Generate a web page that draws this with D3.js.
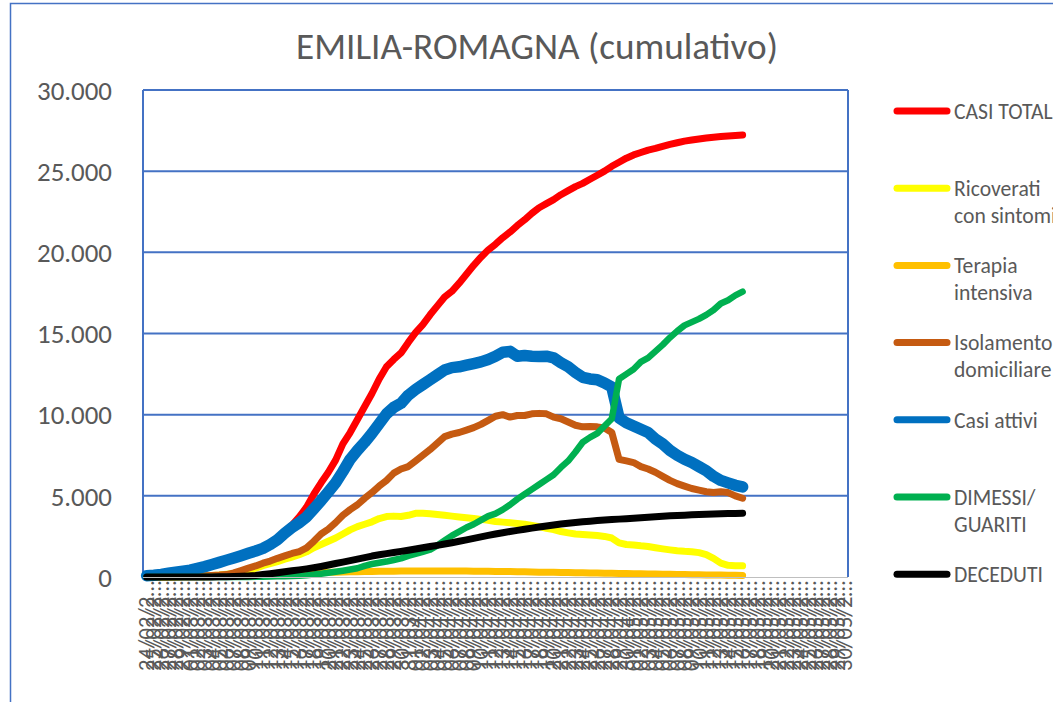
<!DOCTYPE html>
<html>
<head>
<meta charset="utf-8">
<script src="https://cdn.jsdelivr.net/npm/d3@7"></script>
<style>
  body { margin: 0; background: #fff; }
  svg { display: block; font-family: Carlito, Lato, "Open Sans", sans-serif; }
</style>
</head>
<body>
<div id="chart"></div>
<script>
// ---- data ----
const chartTitle = "EMILIA-ROMAGNA (cumulativo)";
const firstDay = new Date(2020, 1, 24), lastDay = new Date(2020, 4, 30);
const yTicks = [0, 5000, 10000, 15000, 20000, 25000, 30000];

const casiTotali = [80,110,160,230,300,360,430,540,650,780,
  920,1060,1200,1340,1500,1650,1830,2080,2400,2800,
  3200,3700,4300,5100,5800,6450,7200,8200,8900,9700,
  10500,11300,12200,12950,13400,13800,14450,15050,15550,16150,
  16700,17250,17600,18100,18650,19200,19700,20150,20500,20900,
  21250,21650,22000,22400,22750,23000,23250,23550,23800,24050,
  24250,24500,24750,25000,25300,25550,25800,26000,26150,26300,
  26400,26530,26650,26750,26850,26920,26980,27040,27090,27130,
  27170,27200,27230];
const ricoverati = [0,0,5,10,20,30,40,60,80,100,
  130,170,210,260,400,550,700,820,950,1100,
  1230,1370,1550,1800,2000,2200,2400,2650,2900,3100,
  3250,3400,3600,3720,3750,3730,3800,3920,3930,3900,
  3850,3800,3750,3700,3650,3610,3550,3500,3420,3380,
  3340,3300,3250,3180,3100,3000,2920,2800,2720,2650,
  2620,2590,2560,2500,2400,2100,2000,1970,1920,1880,
  1800,1730,1670,1620,1580,1560,1500,1380,1150,850,
  720,700,690];
const terapiaIntensiva = [0,0,2,4,6,8,12,16,20,25,
  30,40,50,60,70,90,110,130,150,170,
  190,210,230,250,270,290,300,310,320,330,
  340,345,350,355,360,365,370,372,375,375,
  374,372,370,368,365,360,355,350,345,340,
  335,330,320,310,300,292,285,278,270,262,
  255,248,240,232,225,218,210,202,195,188,
  180,172,165,158,150,143,136,130,124,118,
  112,106,100];
const isolamento = [0,0,10,20,30,40,50,60,80,100,
  120,150,250,400,550,680,850,980,1150,1300,
  1450,1570,1800,2200,2650,2950,3350,3800,4150,4450,
  4850,5200,5600,5950,6400,6650,6800,7150,7500,7850,
  8250,8650,8800,8900,9050,9200,9400,9650,9900,10000,
  9850,9950,9950,10050,10080,10050,9850,9750,9550,9350,
  9250,9270,9250,9180,8900,7250,7150,7050,6800,6650,
  6450,6200,5950,5750,5600,5450,5350,5250,5200,5250,
  5200,5000,4850];
const casiAttivi = [80,110,160,230,300,360,420,530,640,770,
  900,1040,1170,1310,1460,1600,1760,2000,2300,2700,
  3050,3350,3700,4200,4700,5250,5800,6500,7250,7800,
  8300,8850,9450,10050,10450,10700,11200,11550,11850,12150,
  12450,12750,12900,12950,13050,13150,13250,13400,13600,13850,
  13900,13600,13650,13600,13580,13600,13500,13200,12950,12600,
  12300,12200,12150,11950,11700,9800,9500,9300,9100,8900,
  8500,8200,7800,7500,7250,7050,6800,6550,6200,5950,
  5800,5650,5550];
const dimessiGuariti = [0,0,0,0,0,0,0,0,0,0,
  0,0,0,0,0,10,20,30,40,50,
  60,80,110,150,200,260,320,390,460,540,
  680,800,880,950,1050,1150,1300,1420,1550,1680,
  1950,2250,2550,2800,3050,3250,3500,3750,3900,4150,
  4450,4800,5100,5400,5700,6000,6300,6750,7150,7700,
  8300,8600,8850,9300,9750,12200,12500,12800,13250,13500,
  13900,14300,14750,15150,15500,15700,15900,16150,16450,16850,
  17050,17350,17580];
const deceduti = [0,0,0,0,0,0,0,1,3,6,
  10,20,30,45,65,90,150,200,260,320,
  380,440,500,570,650,740,830,920,1010,1100,
  1190,1290,1370,1440,1510,1580,1650,1720,1800,1880,
  1950,2030,2110,2200,2290,2380,2470,2560,2650,2730,
  2800,2870,2940,3010,3080,3140,3200,3260,3310,3360,
  3400,3440,3475,3505,3535,3565,3595,3625,3655,3685,
  3715,3745,3770,3790,3810,3830,3845,3860,3875,3890,
  3905,3918,3930];

const seriesLabels = [["CASI TOTALI"], ["Ricoverati", "con sintomi"], ["Terapia", "intensiva"],
  ["Isolamento", "domiciliare"], ["Casi attivi"], ["DIMESSI/", "GUARITI"], ["DECEDUTI"]];
const seriesValues = [casiTotali, ricoverati, terapiaIntensiva, isolamento, casiAttivi, dimessiGuariti, deceduti];
const seriesColors = ["#FF0000", "#FFFF00", "#FFC000", "#C55A11", "#0070C0", "#00B050", "#000000"];
const seriesWidths = [7, 7, 7, 7, 11.5, 6.5, 7];

// ---- layout ----
const W = 1053, H = 702,
  plot = {left: 143, right: 848, top: 90, bottom: 577},
  textColor = "#595959", gridColor = "#4472C4";

const dates = d3.timeDay.range(firstDay, d3.timeDay.offset(lastDay, 1));
const dateLabels = dates.map(d3.timeFormat("%d/%m/%Y"));

const svg = d3.select("#chart").append("svg").attr("width", W).attr("height", H);

// fit a font size so that a sample string has the given width
function fitSize(str, targetW, base){
  let t = svg.append("text").style("font-size", base + "px").text(str);
  let w = t.node().getComputedTextLength();
  t.remove();
  return base * targetW / w;
}

// chart area border
svg.append("path")
  .attr("d", "M10.5," + H + "V3.5H" + W)
  .attr("fill", "none").attr("stroke", gridColor).attr("stroke-width", 1.5);

// title
let titleSize = fitSize(chartTitle, 482, 30);
svg.append("text")
  .attr("x", 537).attr("y", 59)
  .attr("text-anchor", "middle")
  .style("font-size", titleSize + "px")
  .style("fill", textColor)
  .text(chartTitle);

let x = d3.scaleBand().domain(d3.range(dateLabels.length)).range([plot.left, plot.right]);
let y = d3.scaleLinear().domain([0, 30000]).range([plot.bottom, plot.top]);
let fmt = d3.formatLocale({decimal: ",", thousands: ".", grouping: [3], currency: ["", "€"]}).format(",d");

// gridlines
svg.append("g").selectAll("line").data(yTicks.filter(d => d > 0)).join("line")
  .attr("x1", plot.left).attr("x2", plot.right)
  .attr("y1", d => y(d)).attr("y2", d => y(d))
  .attr("stroke", gridColor).attr("stroke-width", 2);
svg.append("line").attr("x1", plot.left).attr("x2", plot.left)
  .attr("y1", plot.top).attr("y2", plot.bottom)
  .attr("stroke", gridColor).attr("stroke-width", 2);
svg.append("line").attr("x1", plot.right).attr("x2", plot.right)
  .attr("y1", plot.top).attr("y2", plot.bottom)
  .attr("stroke", gridColor).attr("stroke-width", 2);

// y labels
let ySize = fitSize("30.000", 75, 24);
svg.append("g").selectAll("text").data(yTicks).join("text")
  .attr("x", 112).attr("y", d => y(d))
  .attr("dy", "0.36em")
  .attr("text-anchor", "end")
  .style("font-size", ySize + "px")
  .style("fill", textColor)
  .text(d => fmt(d));

// x labels, truncated like the original
let xSize = fitSize("24/02/2\u2026", 90, 20);
svg.append("g").selectAll("text").data(dateLabels).join("text")
  .attr("transform", (d, i) => "translate(" + (x(i) + x.bandwidth()/2) + "," + 581 + ") rotate(-90)")
  .attr("text-anchor", "end")
  .attr("dominant-baseline", "central")
  .style("font-size", xSize + "px")
  .style("fill", textColor)
  .text(d => d.slice(0, 7) + "\u2026");

// lines
let line = d3.line().x((d, i) => x(i) + x.bandwidth()/2).y(d => y(d));
seriesValues.forEach(function(vals, si){
  svg.append("path")
    .datum(vals)
    .attr("d", line)
    .attr("fill", "none")
    .attr("stroke", seriesColors[si])
    .attr("stroke-width", seriesWidths[si])
    .attr("stroke-linejoin", "round")
    .attr("stroke-linecap", "round");
});

// x axis line
svg.append("line").attr("x1", plot.left).attr("x2", plot.right)
  .attr("y1", plot.bottom + 0.5).attr("y2", plot.bottom + 0.5)
  .attr("stroke", "#BFBFBF").attr("stroke-width", 1);

// legend (the longer labels run past the right edge, as in the original)
let legSize = fitSize("DECEDUTI", 89, 20);
let leg = svg.append("g");
seriesLabels.forEach(function(lab, si){
  let ly = 111 + si * 77.2;
  leg.append("line")
    .attr("x1", 897).attr("x2", 947)
    .attr("y1", ly).attr("y2", ly)
    .attr("stroke", seriesColors[si]).attr("stroke-width", 7)
    .attr("stroke-linecap", "round");
  let t = leg.append("text")
    .attr("x", 954).attr("y", ly)
    .style("font-size", legSize + "px")
    .style("fill", textColor);
  lab.forEach(function(part, pi){
    t.append("tspan").attr("x", 954).attr("dy", pi === 0 ? "0.36em" : "1.25em").text(part);
  });
});
</script>
</body>
</html>
